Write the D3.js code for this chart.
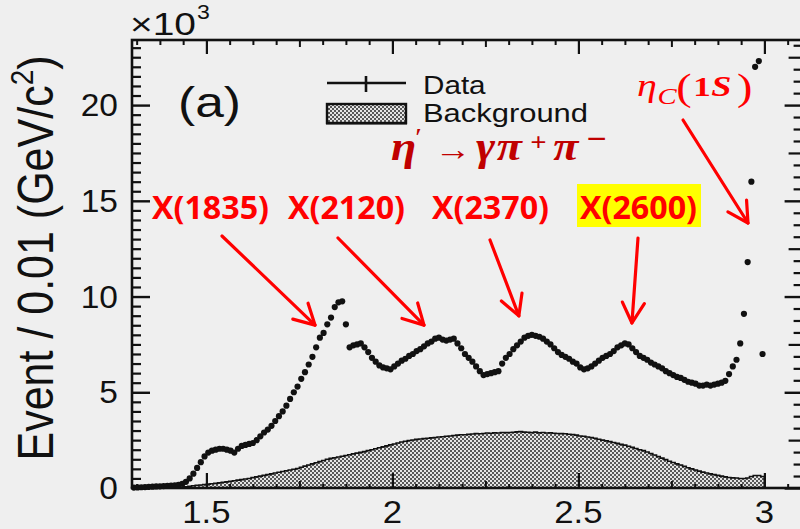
<!DOCTYPE html>
<html>
<head>
<meta charset="utf-8">
<script src="https://cdn.jsdelivr.net/npm/d3@7"></script>
<style>
  html, body { margin: 0; padding: 0; background: #efefef; }
  svg { display: block; }
</style>
</head>
<body>
<svg id="chart" width="800" height="529"></svg>
<script>
// Invariant-mass binning (GeV/c^2): first bin edge and bin width
const massStart = 1.30;
const binWidth = 0.01;

// Events per bin, in units of 10^3, bins 1.30-1.31 ... 2.99-3.00
const eventCounts = [
  0.02, 0.03, 0.04, 0.05, 0.06, 0.07, 0.08, 0.09, 0.10, 0.11,
  0.12, 0.14, 0.17, 0.22, 0.32, 0.50, 0.75, 1.05, 1.35, 1.65,
  1.85, 1.95, 2.00, 2.05, 2.05, 2.00, 1.95, 1.85, 2.05, 2.20,
  2.25, 2.30, 2.35, 2.50, 2.70, 2.90, 3.05, 3.25, 3.50, 3.75,
  4.00, 4.30, 4.65, 5.00, 5.30, 5.70, 6.05, 6.45, 6.85, 7.35,
  7.85, 8.10, 8.55, 8.90, 9.45, 9.70, 9.75, 8.55, 7.35, 7.45,
  7.50, 7.55, 7.35, 7.10, 6.80, 6.60, 6.40, 6.30, 6.25, 6.20,
  6.35, 6.50, 6.65, 6.75, 6.90, 7.00, 7.15, 7.25, 7.40, 7.55,
  7.65, 7.80, 7.85, 7.75, 7.70, 7.75, 7.80, 7.55, 7.30, 7.00,
  6.80, 6.60, 6.35, 6.10, 5.90, 5.95, 6.00, 6.05, 6.10, 6.50,
  6.80, 7.00, 7.25, 7.45, 7.65, 7.85, 7.95, 8.00, 7.95, 7.90,
  7.80, 7.65, 7.50, 7.30, 7.10, 6.95, 6.85, 6.75, 6.60, 6.50,
  6.30, 6.20, 6.25, 6.35, 6.50, 6.65, 6.80, 6.90, 7.00, 7.15,
  7.35, 7.45, 7.55, 7.50, 7.30, 7.10, 6.90, 6.80, 6.70, 6.55,
  6.45, 6.35, 6.25, 6.10, 6.00, 5.90, 5.80, 5.75, 5.65, 5.55,
  5.50, 5.45, 5.35, 5.35, 5.40, 5.35, 5.40, 5.45, 5.50, 5.60,
  5.95, 6.35, 6.70, 7.55, 9.10, 11.80, 16.00, 22.00, 22.30, 7.00
];

// Estimated background per bin, same binning, units of 10^3
const backgroundCounts = [
  0, 0, 0, 0, 0, 0, 0, 0, 0, 0,
  0, 0, 0, 0.03, 0.06, 0.09, 0.12, 0.14, 0.16, 0.18,
  0.20, 0.22, 0.24, 0.27, 0.30, 0.32, 0.35, 0.38, 0.41, 0.44,
  0.47, 0.50, 0.54, 0.58, 0.62, 0.66, 0.70, 0.74, 0.78, 0.82,
  0.86, 0.90, 0.94, 0.98, 1.02, 1.08, 1.14, 1.20, 1.26, 1.32,
  1.38, 1.44, 1.50, 1.55, 1.58, 1.62, 1.66, 1.70, 1.74, 1.78,
  1.82, 1.86, 1.90, 1.95, 2.00, 2.05, 2.10, 2.15, 2.20, 2.25,
  2.30, 2.35, 2.40, 2.44, 2.48, 2.51, 2.54, 2.56, 2.58, 2.60,
  2.62, 2.64, 2.66, 2.68, 2.70, 2.72, 2.74, 2.76, 2.78, 2.78,
  2.80, 2.82, 2.84, 2.83, 2.85, 2.87, 2.86, 2.88, 2.87, 2.90,
  2.89, 2.90, 2.91, 2.93, 2.95, 2.92, 2.91, 2.89, 2.92, 2.88,
  2.90, 2.87, 2.88, 2.86, 2.85, 2.84, 2.83, 2.81, 2.79, 2.76,
  2.72, 2.70, 2.66, 2.64, 2.60, 2.55, 2.50, 2.46, 2.42, 2.38,
  2.33, 2.28, 2.24, 2.18, 2.12, 2.06, 2.00, 1.95, 1.88, 1.80,
  1.72, 1.64, 1.56, 1.48, 1.40, 1.33, 1.26, 1.20, 1.13, 1.06,
  1.00, 0.94, 0.88, 0.83, 0.78, 0.74, 0.70, 0.66, 0.62, 0.58,
  0.55, 0.53, 0.52, 0.50, 0.50, 0.52, 0.60, 0.65, 0.65, 0.60
];

const xTickValues = [1.5, 2, 2.5, 3];
const xTickLabels = ["1.5", "2", "2.5", "3"];
const yTickValues = [0, 5, 10, 15, 20];
const yTickLabels = ["0", "5", "10", "15", "20"];

// Resonance annotations: label, and where (mass, counts) each arrow points
const resonanceLabels = ["X(1835)", "X(2120)", "X(2370)", "X(2600)"];
const arrowTipMass = [1.80, 2.093, 2.348, 2.652];
const arrowTipCounts = [8.3, 8.3, 8.78, 8.41];

const svg = d3.select("#chart");
const x = d3.scaleLinear().domain([1.3, 3.1]).range([132, 801.6]);
const y = d3.scaleLinear().domain([0, 23.4]).range([488, 40]);

const SANS = "'Liberation Sans', Arial, Helvetica, sans-serif";
const SERIF = "'Liberation Serif', 'DejaVu Serif', serif";
const BOLD_SANS = "'Open Sans', 'Liberation Sans', sans-serif";
const INK = "#111";
const RED = "#ff0000";
const DARK_RED = "#c00000";

// Text helper: horizontally widened glyphs, anchored manually
function label(parent, str, xPos, yPos, size, anchor, k, opts = {}) {
  const t = parent.append("text")
    .attr("x", xPos).attr("y", yPos)
    .attr("font-size", size)
    .attr("font-family", opts.family || SANS)
    .attr("font-weight", opts.weight || "normal")
    .attr("font-style", opts.style || "normal")
    .attr("fill", opts.fill || INK)
    .text(str);
  const w = opts.width || t.node().getComputedTextLength() * k;
  t.attr("textLength", w).attr("lengthAdjust", "spacingAndGlyphs");
  const shift = anchor === "middle" ? w / 2 : anchor === "end" ? w : 0;
  t.attr("x", xPos - shift);
  return t;
}

// Checkered fill used for the background histogram
const defs = svg.append("defs");
const pat = defs.append("pattern").attr("id", "checker")
  .attr("width", 4).attr("height", 4).attr("patternUnits", "userSpaceOnUse");
pat.append("rect").attr("width", 4).attr("height", 4).attr("fill", "#e4e4e4");
pat.append("rect").attr("width", 2).attr("height", 2).attr("fill", "#585858");
pat.append("rect").attr("x", 2).attr("y", 2).attr("width", 2).attr("height", 2).attr("fill", "#585858");

// Background histogram (step outline + checkered fill)
const nBins = backgroundCounts.length;
const bgPoints = backgroundCounts.map((v, i) => [massStart + i * binWidth, v]);
bgPoints.push([massStart + nBins * binWidth, backgroundCounts[nBins - 1]]);
bgPoints.push([massStart + nBins * binWidth, 0]);

const bgArea = d3.area().x(d => x(d[0])).y0(y(0)).y1(d => y(d[1])).curve(d3.curveStepAfter);
const bgLine = d3.line().x(d => x(d[0])).y(d => y(d[1])).curve(d3.curveStepAfter);
svg.append("path").datum(bgPoints).attr("d", bgArea).attr("fill", "url(#checker)");
svg.append("path").datum(bgPoints).attr("d", bgLine)
  .attr("fill", "none").attr("stroke", INK).attr("stroke-width", 1.6);

// Data points
svg.append("g").selectAll("circle")
  .data(eventCounts)
  .join("circle")
  .attr("cx", (d, i) => x(massStart + (i + 0.5) * binWidth))
  .attr("cy", d => y(d))
  .attr("r", 3.1)
  .attr("fill", INK);

// Frame
svg.append("rect")
  .attr("x", x(1.3)).attr("y", y(23.4))
  .attr("width", x(3.1) - x(1.3)).attr("height", y(0) - y(23.4))
  .attr("fill", "none").attr("stroke", INK).attr("stroke-width", 2.6);

// Inward tick marks on all four sides
function ticks(axisFn, scale, values, size, transform, width) {
  const g = svg.append("g").attr("transform", transform)
    .call(axisFn(scale).tickValues(values).tickSize(size).tickSizeOuter(0).tickFormat(""));
  g.select(".domain").remove();
  g.selectAll("line").attr("stroke", INK).attr("stroke-width", width);
}
const xMinor = d3.range(0, 29).map(k => 1.3125 + k * 0.0625).filter(v => Math.abs((v * 4) - Math.round(v * 4)) > 1e-6);
const xMedium = [1.75, 2.25, 2.75];
ticks(d3.axisBottom, x, xTickValues, -15, `translate(0,${y(0)})`, 2.2);
ticks(d3.axisBottom, x, xMedium, -7, `translate(0,${y(0)})`, 2);
ticks(d3.axisBottom, x, xMinor, -4, `translate(0,${y(0)})`, 2);
ticks(d3.axisTop, x, xTickValues, -14, `translate(0,${y(23.4)})`, 2.2);
ticks(d3.axisTop, x, xMedium, -7, `translate(0,${y(23.4)})`, 2);
ticks(d3.axisTop, x, xMinor, -5, `translate(0,${y(23.4)})`, 2);

const yMinorLeft = d3.range(1, 47).map(k => k * 0.5).filter(v => v % 5 !== 0);
ticks(d3.axisLeft, y, yTickValues, -18, `translate(${x(1.3)},0)`, 2.4);
ticks(d3.axisLeft, y, yMinorLeft, -9, `translate(${x(1.3)},0)`, 2.2);
const yMediumRight = [2.5, 7.5, 12.5, 17.5, 22.5];
const yMinorRight = d3.range(1, 38).map(k => k * 0.625).filter(v => v % 2.5 !== 0);
ticks(d3.axisRight, y, yTickValues, -17, `translate(${x(3.1)},0)`, 2.4);
ticks(d3.axisRight, y, yMediumRight, -13, `translate(${x(3.1)},0)`, 2.2);
ticks(d3.axisRight, y, yMinorRight, -8, `translate(${x(3.1)},0)`, 2.2);

// Tick labels
const labels = svg.append("g");
xTickValues.forEach((v, i) => label(labels, xTickLabels[i], x(v), 523, 31, "middle", 1.12));
yTickValues.forEach((v, i) => label(labels, yTickLabels[i], 118, y(v) + 11, 31, "end", 1.08));

// Exponent marker
label(labels, "\u00d710", 130, 35, 31, "start", 1, { width: 66 });
label(labels, "3", 197, 19, 21, "start", 1.1);

// Y axis title (glyphs widened across the baseline)
const yTitle = svg.append("text")
  .attr("transform", "translate(53,258) rotate(-90) scale(1,1.15)")
  .attr("text-anchor", "middle")
  .attr("font-family", SANS).attr("font-size", 43).attr("fill", INK);
yTitle.append("tspan").text("Event / 0.01 (GeV/c");
yTitle.append("tspan").attr("font-size", 28).attr("dy", -17).text("2");
yTitle.append("tspan").attr("dy", 17).text(")");

// Panel tag
label(labels, "(a)", 178, 117, 42, "start", 1, { width: 63 });

// Legend
const leg = svg.append("g");
leg.append("line").attr("x1", 327).attr("x2", 406).attr("y1", 83).attr("y2", 83)
  .attr("stroke", INK).attr("stroke-width", 2.4);
leg.append("line").attr("x1", 366).attr("x2", 366).attr("y1", 76).attr("y2", 92)
  .attr("stroke", INK).attr("stroke-width", 2.6);
leg.append("rect").attr("x", 327).attr("y", 104).attr("width", 79).attr("height", 19)
  .attr("fill", "url(#checker)").attr("stroke", INK).attr("stroke-width", 2.4);
leg.append("line").attr("x1", 326).attr("x2", 407).attr("y1", 123.5).attr("y2", 123.5)
  .attr("stroke", INK).attr("stroke-width", 2);
label(leg, "Data", 423, 94, 26, "start", 1.14);
label(leg, "Background", 423, 122, 26, "start", 1, { width: 165 });

// Decay channel  eta' -> gamma pi+ pi-
const chan = svg.append("text")
  .attr("transform", "translate(391,160) scale(1.15,1)")
  .attr("font-family", SERIF).attr("fill", DARK_RED)
  .attr("font-weight", "bold").attr("font-size", 40);
chan.append("tspan").attr("x", 0).attr("y", 0).attr("font-style", "italic").text("\u03b7");
chan.append("tspan").attr("x", 21).attr("y", -14).attr("font-size", 26).attr("font-weight", "normal").text("\u2032");
chan.append("tspan").attr("x", 38).attr("y", 0).attr("font-size", 32).attr("font-weight", "normal").text("\u2192");
chan.append("tspan").attr("x", 74).attr("y", 0).attr("font-style", "italic").text("\u03b3");
chan.append("tspan").attr("x", 92).attr("y", 0).attr("font-style", "italic").text("\u03c0");
chan.append("tspan").attr("x", 121).attr("y", -9).attr("font-size", 25).text("+");
chan.append("tspan").attr("x", 141).attr("y", 0).attr("font-style", "italic").text("\u03c0");
chan.append("tspan").attr("x", 170).attr("y", -11).attr("font-size", 31).text("\u2212");

// eta_c(1S)
const etac = svg.append("text")
  .attr("transform", "translate(637,0) scale(1.25,1)")
  .attr("font-family", SERIF).attr("fill", RED).attr("font-size", 32);
etac.append("tspan").attr("x", 0).attr("y", 96).attr("font-style", "italic").text("\u03b7");
etac.append("tspan").attr("x", 16.5).attr("y", 104).attr("font-size", 23).attr("font-style", "italic").text("C");
etac.append("tspan").attr("x", 31.5).attr("y", 100).attr("font-size", 37).text("(");
etac.append("tspan").attr("x", 45).attr("y", 96).attr("font-size", 28).attr("font-weight", "bold").text("1");
etac.append("tspan").attr("x", 59.5).attr("y", 96).attr("font-size", 29).attr("font-weight", "bold").attr("font-style", "italic").text("S");
etac.append("tspan").attr("x", 80).attr("y", 100).attr("font-size", 37).text(")");

// Resonance labels
const labelLeft = [152, 288, 432, 580];
svg.append("rect").attr("x", 577).attr("y", 184).attr("width", 124).attr("height", 43).attr("fill", "#ffff00");
resonanceLabels.forEach((s, i) =>
  label(svg, s, labelLeft[i], 219, 33, "start", 1, { family: BOLD_SANS, weight: "bold", fill: RED, width: 117 }));

// Arrows
function arrow(x1, y1, x2, y2) {
  const g = svg.append("g").attr("stroke", RED).attr("stroke-width", 3.2)
    .attr("fill", "none").attr("stroke-linecap", "round").attr("stroke-linejoin", "round");
  g.append("line").attr("x1", x1).attr("y1", y1).attr("x2", x2).attr("y2", y2);
  const a = Math.atan2(y2 - y1, x2 - x1);
  const L = 23, h = 0.5;
  const p1 = [x2 - L * Math.cos(a - h), y2 - L * Math.sin(a - h)];
  const p2 = [x2 - L * Math.cos(a + h), y2 - L * Math.sin(a + h)];
  g.append("path").attr("d", `M${p1[0]},${p1[1]}L${x2},${y2}L${p2[0]},${p2[1]}`);
}
const arrowStarts = [[222, 236], [338, 238], [490, 240], [638, 238]];
arrowTipMass.forEach((m, i) =>
  arrow(arrowStarts[i][0], arrowStarts[i][1], x(m) - 3, y(arrowTipCounts[i]) - 4));
arrow(683, 120, 748, 223);
</script>
</body>
</html>
